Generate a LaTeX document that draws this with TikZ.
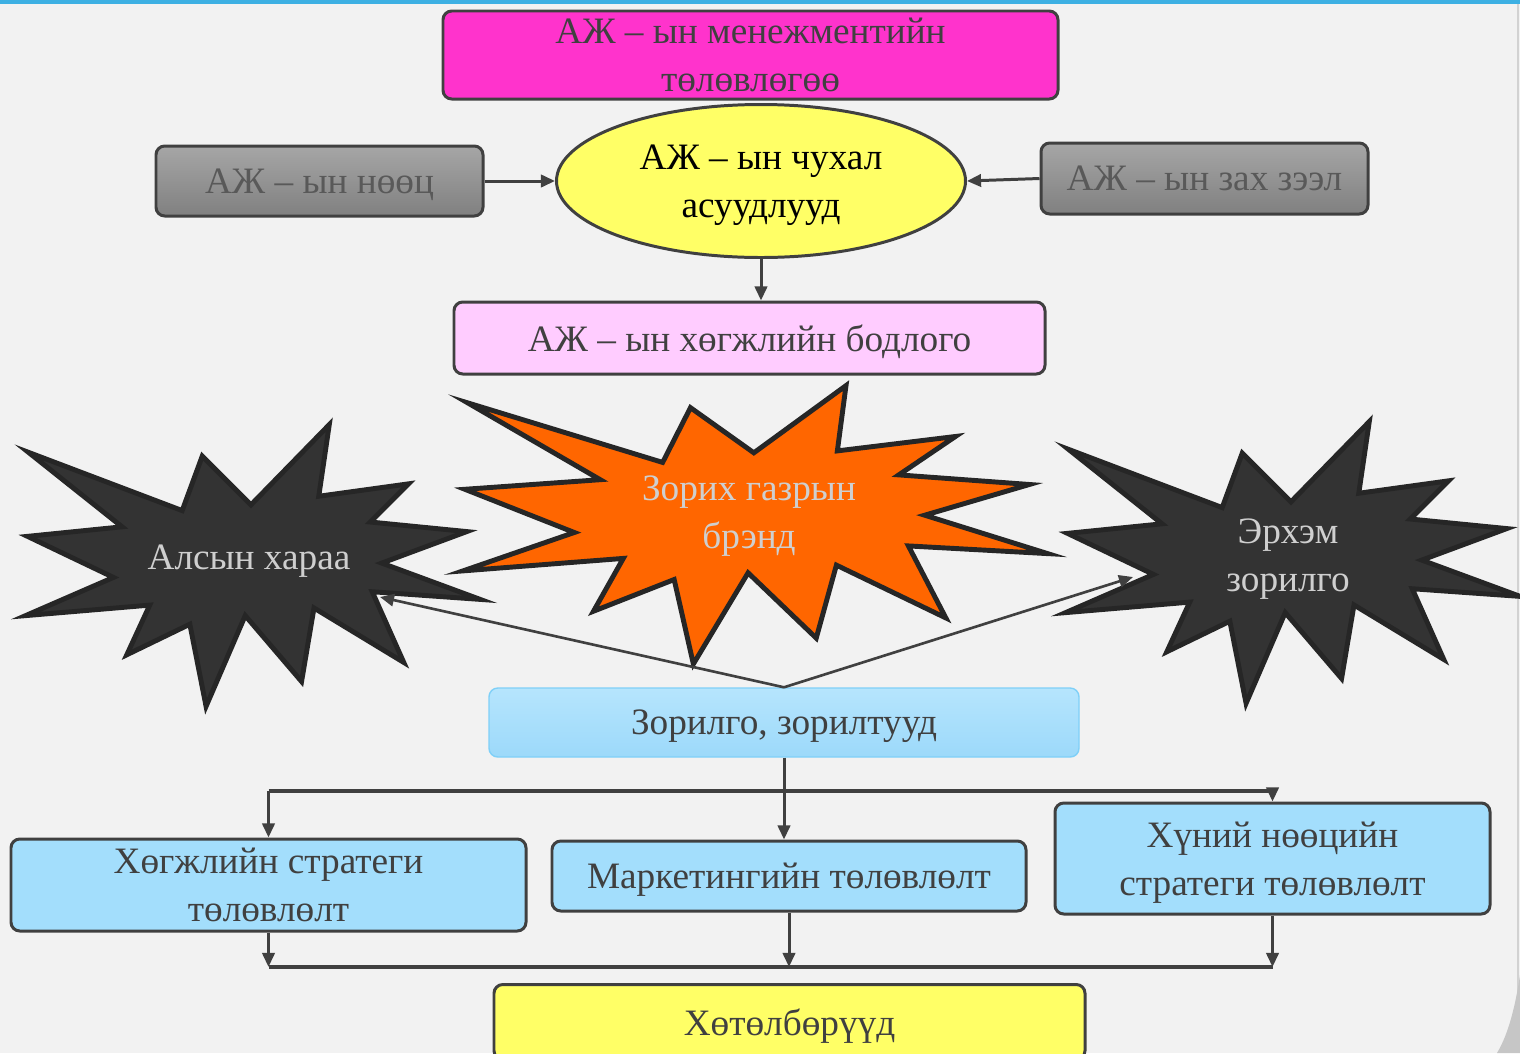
\documentclass[tikz,border=0pt]{standalone}
\usepackage{fontspec}
\setmainfont{Liberation Serif}
\usetikzlibrary{arrows.meta,shapes.geometric}

\definecolor{bg}{HTML}{F2F2F2}
\definecolor{topline}{HTML}{3DB0E3}
\definecolor{edge}{HTML}{404040}
\definecolor{txt}{HTML}{404040}
\definecolor{graytxt}{HTML}{595959}
\definecolor{magentabox}{HTML}{FF33CC}
\definecolor{yellowbox}{HTML}{FFFF66}
\definecolor{pinkbox}{HTML}{FFCCFF}
\definecolor{bluebox}{HTML}{A3DEFC}
\definecolor{goaltop}{HTML}{B6E5FD}
\definecolor{goalbot}{HTML}{9CD9FA}
\definecolor{goaledge}{HTML}{7FD0F8}
\definecolor{graytop}{HTML}{A6A6A6}
\definecolor{graybot}{HTML}{808080}
\definecolor{orangestar}{HTML}{FF6600}
\definecolor{darkstar}{HTML}{333333}
\definecolor{starline}{HTML}{262626}
\definecolor{startxt}{HTML}{CFCFCF}

% outline of the dark explosion shape (left one)
\newcommand{\burstoutline}{(18,447) -- (179,508) -- (200,451) -- (251,502) -- (333,418) -- (322,493) -- (416,480) -- (376,520) -- (477,530) -- (388,563) -- (491,601) -- (378,593) -- (411,667) -- (317,610) -- (304,687) -- (245,618) -- (204,713) -- (187,627) -- (121,659) -- (145,607) -- (15,618) -- (107,578) -- (17,535) -- (116,525) -- cycle}

\begin{document}
\begin{tikzpicture}[x=0.2mm,y=-0.2mm,
  every node/.style={font=\fontsize{21.2}{27.5}\selectfont, text=txt, align=center, inner sep=0pt, text depth=0pt},
  box/.style={draw=edge, line width=1.7pt, rounded corners=5pt},
  link/.style={draw=edge, line width=1.7pt},
  arrow/.style={link, -{Triangle[length=8pt,width=7pt]}},
  burst/.style={draw=starline, line width=2.8pt, line join=miter}]
\useasboundingbox (0,0) rectangle (1520,1053);
\clip (0,0) rectangle (1520,1053);
\fill[bg] (0,0) rectangle (1520,1053);
\fill[topline] (0,0) rectangle (1520,4);
\draw[gray!35, line width=0.6pt] (1518,4) -- (1518,1053);
\fill[gray!45] (1520,975) .. controls (1514,1015) and (1506,1038) .. (1497,1053) -- (1520,1053) -- cycle;

% top part
\node[box, fill=magentabox, minimum width=123mm, minimum height=17.6mm] (plan) at (750.5,55) {АЖ – ын менежментийн\\төлөвлөгөө};
\node[ellipse, draw=edge, line width=1.7pt, fill=yellowbox, minimum width=81.8mm, minimum height=30.6mm, text=black] (chuhal) at (761,181) {АЖ – ын чухал\\асуудлууд};
\node[box, top color=graytop, bottom color=graybot, minimum width=65.4mm, minimum height=14mm, text=graytxt] (nooc) at (319.5,181) {АЖ – ын нөөц};
\node[box, top color=graytop, bottom color=graybot, minimum width=65.4mm, minimum height=14.2mm, text=graytxt] (zah) at (1204.5,178.5) {АЖ – ын зах зээл};
\node[box, fill=pinkbox, minimum width=118.2mm, minimum height=14.4mm] (bodlogo) at (749.5,338) {АЖ – ын хөгжлийн бодлого};

\draw[arrow] (nooc.east) -- (chuhal.west);
\draw[arrow] (zah.west) -- (chuhal.east);
\draw[arrow] (chuhal.south) -- (chuhal.south |- bodlogo.north);

% explosions
\begin{scope}[shift={(250,565)}, scale=0.955, shift={(-250,-565)}]
\draw[burst, fill=darkstar] \burstoutline;
\end{scope}
\begin{scope}[shift={(1290,562)}, scale=0.955, shift={(-250,-565)}]
\draw[burst, fill=darkstar] \burstoutline;
\end{scope}
\begin{scope}[shift={(750,520)}, scale=0.96, shift={(-750,-520)}]
\draw[burst, fill=orangestar] (456,398) -- (659,460) -- (688,403) -- (754,450) -- (850,380) -- (841,448) -- (964,433) -- (905,473) -- (1041,483) -- (932,515) -- (1060,555) -- (915,547) -- (954,622) -- (840,567) -- (819,643) -- (748,575) -- (691,670) -- (671,582) -- (587,615) -- (618,560) -- (451,573) -- (567,533) -- (453,488) -- (594,478) -- cycle;
\end{scope}
\node[text=startxt] (alsyn) at (249,557) {Алсын хараа};
\node[text=startxt] (brend) at (749,512) {Зорих газрын\\брэнд};
\node[text=startxt] (erhem) at (1288,555) {Эрхэм\\зорилго};
\coordinate (alsynend) at (380,597);
\coordinate (erhemend) at (1133,577);

% goals and plans
\node[draw=goaledge, line width=0.8pt, rounded corners=5pt, top color=goaltop, bottom color=goalbot, minimum width=118mm, minimum height=13.8mm] (zorilgo) at (784,722.5) {Зорилго, зорилтууд};
\draw[arrow, line width=1.5pt] (zorilgo.north) -- (alsynend);
\draw[arrow, line width=1.5pt] (zorilgo.north) -- (erhemend);

\node[box, fill=bluebox, minimum width=103mm, minimum height=18.4mm] (strateg) at (268.5,885) {Хөгжлийн стратеги\\төлөвлөлт};
\node[box, fill=bluebox, minimum width=94.8mm, minimum height=14mm] (marketing) at (789,876) {Маркетингийн төлөвлөлт};
\node[box, fill=bluebox, minimum width=87mm, minimum height=22.2mm] (hun) at (1272.5,858.5) {Хүний нөөцийн\\стратеги төлөвлөлт};
\node[box, fill=yellowbox, minimum width=118.2mm, minimum height=15mm] (hotolbor) at (789.5,1022) {Хөтөлбөрүүд};

\coordinate (topbus) at (783,791);
\coordinate (botbus) at (783,967);
\draw[link, line width=2.2pt] (strateg.north |- topbus) -- (hun.north |- topbus);
\draw[arrow] (strateg.north |- topbus) -- (strateg.north);
\draw[arrow] (hun.north |- topbus) -- (hun.north);
\draw[arrow] (zorilgo.south) -- (zorilgo.south |- marketing.north);

\draw[link, line width=2.2pt] (strateg.south |- botbus) -- (hun.south |- botbus);
\draw[arrow] (strateg.south) -- (strateg.south |- botbus);
\draw[arrow] (marketing.south) -- (marketing.south |- botbus);
\draw[arrow] (hun.south) -- (hun.south |- botbus);
\end{tikzpicture}
\end{document}
